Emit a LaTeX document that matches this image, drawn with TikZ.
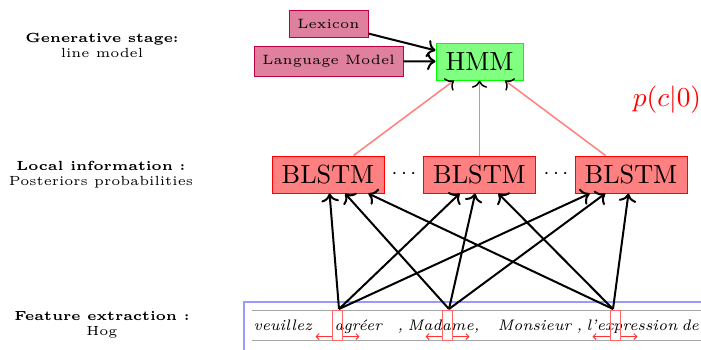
\documentclass[tikz,border=0pt]{standalone}
\usetikzlibrary{arrows.meta}
\begin{document}
\begin{tikzpicture}[x=0.4pt,y=-0.4pt,
  big/.style={font=\fontsize{10.5}{12}\selectfont},
  blstm/.style={draw=red, fill=red!50, line width=0.4pt, minimum width=44.8pt, minimum height=14.8pt, inner sep=0pt, big},
  hmmbox/.style={draw=green, fill=green!50, line width=0.4pt, minimum width=34.8pt, minimum height=14.8pt, inner sep=0pt, big},
  src/.style={draw=purple, fill=purple!50, line width=0.4pt, inner sep=0pt, font=\fontsize{5.4}{6.2}\selectfont},
  lab/.style={align=center, font=\fontsize{5.3}{6.1}\selectfont, inner sep=0pt},
  feat/.style={line width=0.8pt, -{Computer Modern Rightarrow}},
  post/.style={draw=red!50, line width=0.6pt, -{Computer Modern Rightarrow[black]}},
  win/.style={draw=red!60, line width=0.4pt, minimum width=4pt, minimum height=12pt, inner sep=0pt},
  redarr/.style={draw=red!80, line width=0.4pt, -{Straight Barb[length=1.2pt,width=2.4pt]}},
  hand/.style={anchor=base west, inner sep=0pt, font=\fontsize{6.1}{7.5}\selectfont\itshape},
  dots/.style={font=\fontsize{8.5}{10}\selectfont},
]
\useasboundingbox (0,0) rectangle (701,349);

% image frame and ruling
\draw[blue!40, line width=0.8pt] (244,360) -- (244,302) -- (720,302);
\draw[gray!70, line width=0.4pt] (252,310) -- (720,310);
\draw[gray!70, line width=0.4pt] (252,340) -- (720,340);

% handwriting
\node[hand] (h1) at (253,330) {veuillez};
\node[hand] (h2) at (334,330) {agréer};
\node[hand] (h3) at (397,330) {,};
\node[hand] (h4) at (407,330) {Madame,};
\node[hand] (h5) at (497,330) {Monsieur};
\node[hand] (h6) at (576,330) {,};
\node[hand] (h7) at (586,330) {l'expression};
\node[hand] (h8) at (681,330) {de};

% windows
\node[win] (w1) at (337,325) {};
\node[win] (w2) at (447,325) {};
\node[win] (w3) at (615,325) {};
\foreach \w/\l/\r in {w1/16/17, w2/16/17, w3/17/17}{
  \draw[redarr] ([yshift=1.6pt]\w.south west) -- ++(-\l,0);
  \draw[redarr] ([yshift=1.6pt]\w.south east) -- ++(\r,0);
}
\coordinate (o1) at (339,309);
\coordinate (o2) at (449,309);
\coordinate (o3) at (613,309);

% left labels
\node[lab] (g) at (102,45.5) {\textbf{Generative stage:}\\line model};
\node[lab] (l) at (101,174.5) {\textbf{Local information :}\\Posteriors probabilities};
\node[lab] (f) at (102,325) {\textbf{Feature extraction :}\\Hog};

% top
\node[src, minimum width=31.6pt, minimum height=10.8pt] (lex) at (328.5,23.5) {Lexicon};
\node[src, minimum width=59.6pt, minimum height=12pt] (lm) at (328.5,61) {Language Model};
\node[hmmbox] (hmm) at (479.5,61.5) {HMM};
\node[big, text=red] (pc) at (667,100) {$p(c|0)$};

% BLSTMs
\node[blstm] (b1) at (328,174.5) {BLSTM};
\node[blstm] (b2) at (479.5,174.5) {BLSTM};
\node[blstm] (b3) at (631,174.5) {BLSTM};
\node[dots] (d1) at (404,174) {$\cdots$};
\node[dots] (d2) at (556,174) {$\cdots$};

\draw[feat] (lex) -- (hmm);
\draw[feat] (lm) -- (hmm);
\draw[post] (b1) -- (hmm);
\draw[post] (b2) -- (hmm);
\draw[post] (b3) -- (hmm);
\foreach \o in {o1,o2,o3}{
  \foreach \b in {b1,b2,b3}{
    \draw[feat] (\o) -- (\b);
  }
}
\end{tikzpicture}
\end{document}
